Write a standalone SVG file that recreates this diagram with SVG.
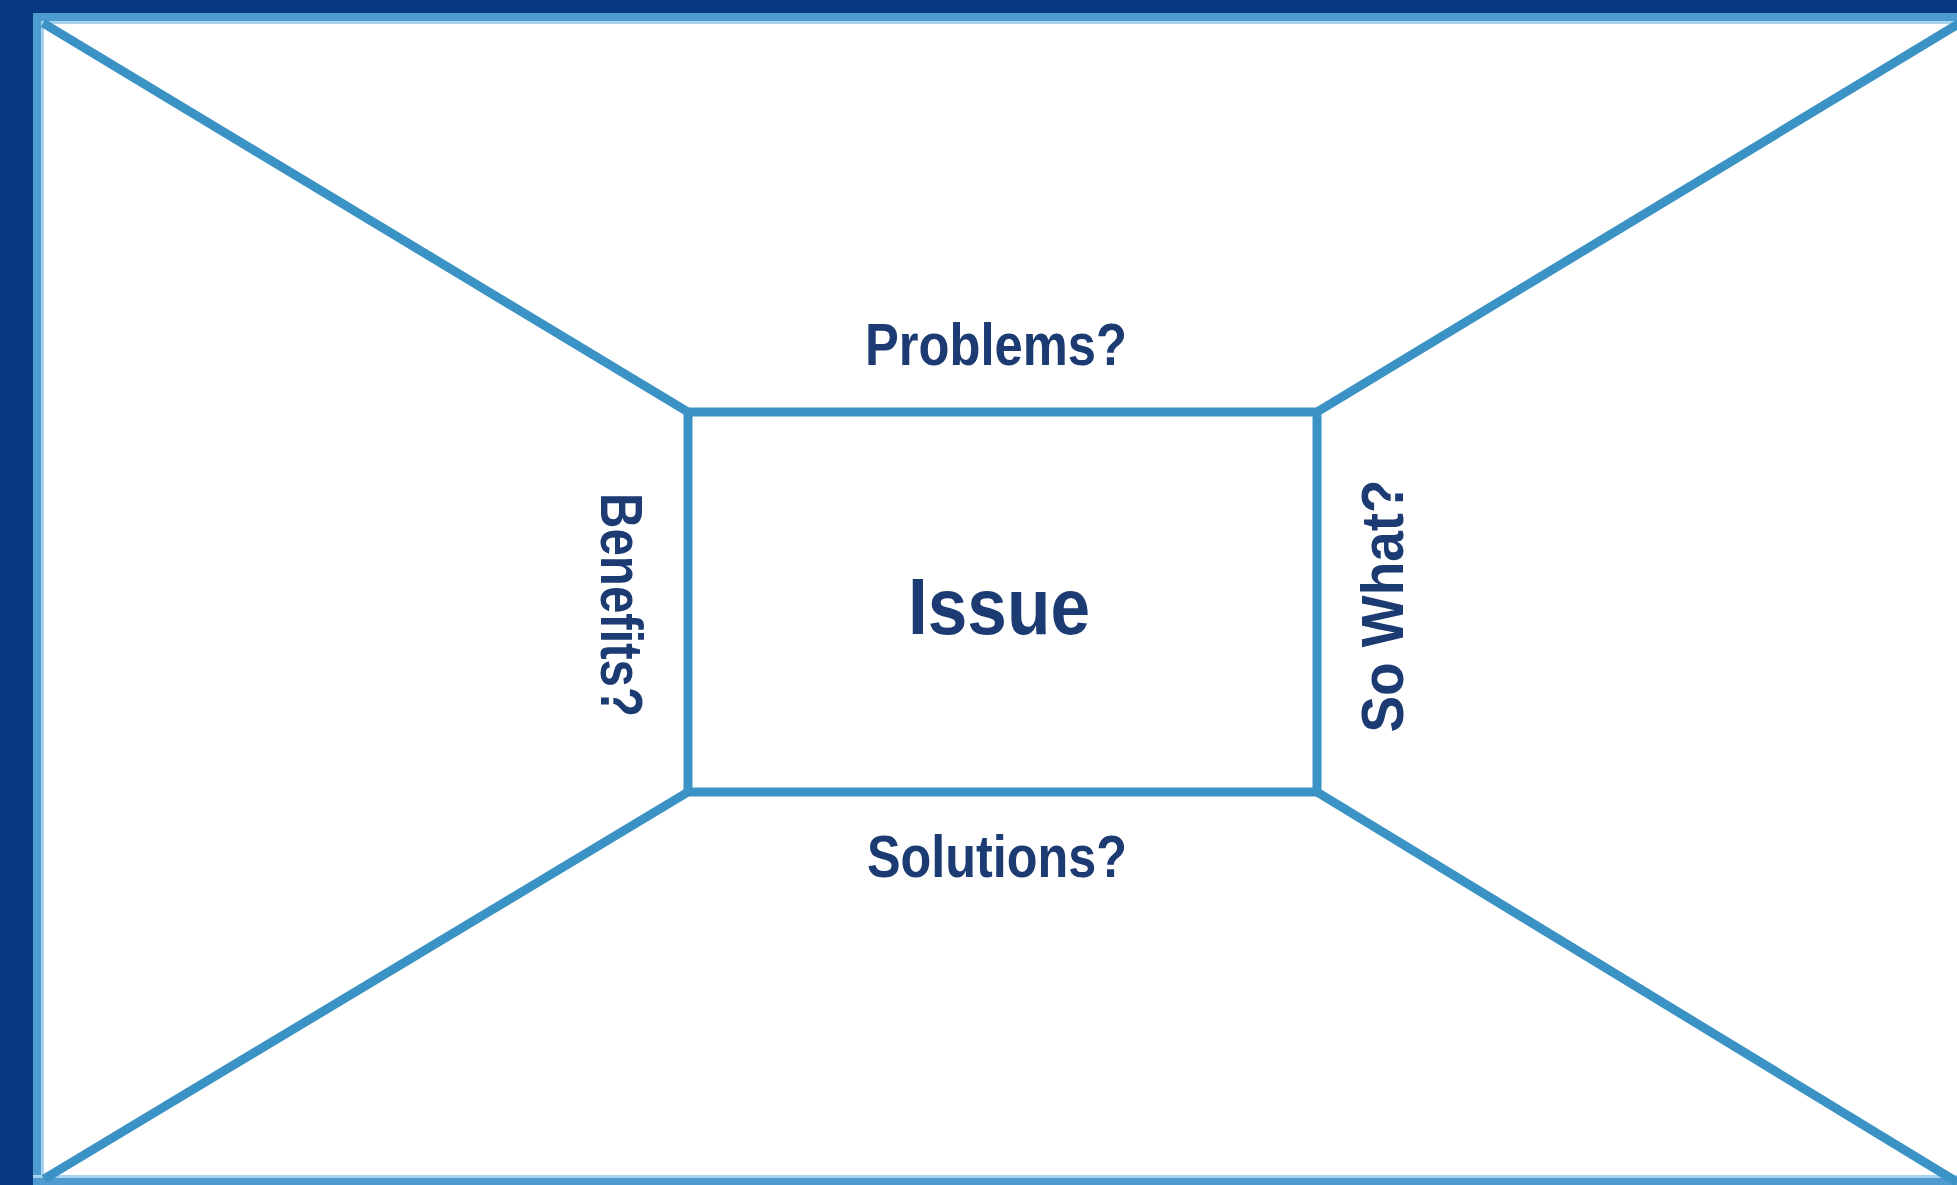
<svg xmlns="http://www.w3.org/2000/svg" width="1957" height="1185" viewBox="0 0 1957 1185">
<style>
.ln{stroke:#3a92c5;stroke-width:9;fill:none;stroke-linecap:butt}
.lbl{font-family:"Liberation Sans",Arial,sans-serif;font-weight:bold;fill:#1b3b72;text-anchor:middle}
</style>
<rect x="0" y="0" width="1957" height="1185" fill="#ffffff"/>
<g id="frame">
<rect x="0" y="0" width="1957" height="13" fill="#06397f"/>
<rect x="0" y="0" width="33" height="1185" fill="#06397f"/>
<rect x="33" y="13" width="1924" height="8" fill="#4d9bd0"/>
<rect x="33" y="21" width="1924" height="3" fill="#a9d3ee"/>
<rect x="33" y="13" width="8" height="1172" fill="#4d9bd0"/>
<rect x="41" y="21" width="3" height="1164" fill="#a9d3ee"/>
<rect x="33" y="1175" width="1924" height="3" fill="#a9d3ee"/>
<rect x="33" y="1178" width="1924" height="7" fill="#4d9bd0"/>
</g>
<g id="connectors">
<line class="ln" x1="43" y1="23" x2="688" y2="412"/>
<line class="ln" x1="1960" y1="23" x2="1317" y2="412"/>
<line class="ln" x1="44" y1="1179" x2="688" y2="792"/>
<line class="ln" x1="1957" y1="1182" x2="1317" y2="792"/>
</g>
<g id="issue">
<rect class="ln" x="688" y="412" width="629" height="380" fill="#ffffff"/>
<text class="lbl" x="999" y="634" font-size="80" textLength="182" lengthAdjust="spacingAndGlyphs">Issue</text>
</g>
<g id="problems">
<text class="lbl" x="996" y="365" font-size="60" textLength="262" lengthAdjust="spacingAndGlyphs">Problems?</text>
</g>
<g id="solutions">
<text class="lbl" x="997" y="877" font-size="60" textLength="260" lengthAdjust="spacingAndGlyphs">Solutions?</text>
</g>
<g id="benefits">
<text class="lbl" transform="translate(601,605) rotate(90)" font-size="60" textLength="224" lengthAdjust="spacingAndGlyphs">Benefits?</text>
</g>
<g id="sowhat">
<text class="lbl" transform="translate(1403,606) rotate(-90)" font-size="60" textLength="253" lengthAdjust="spacingAndGlyphs">So What?</text>
</g>
</svg>
